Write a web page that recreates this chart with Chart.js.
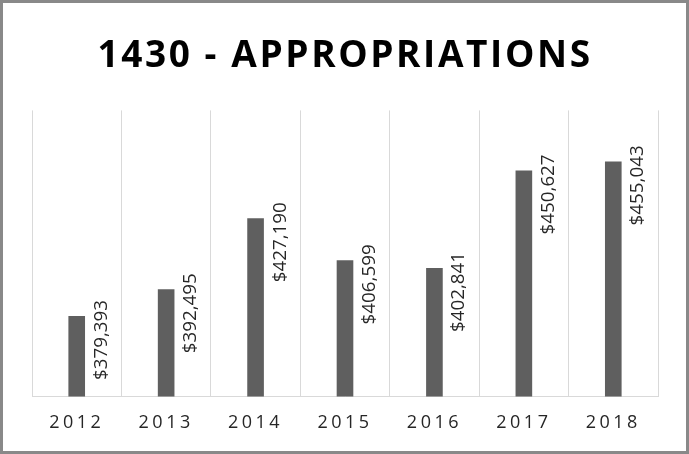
<!DOCTYPE html>
<html>
<head>
<meta charset="utf-8">
<title>1430 - Appropriations</title>
<script src="https://cdn.jsdelivr.net/npm/chart.js@4.4.1/dist/chart.umd.min.js"></script>
<style>
  html, body { margin: 0; padding: 0; background: #fff; }
  #frame { width: 689px; height: 454px; box-sizing: border-box; border: 3px solid #898989; }
  canvas { display: block; }
</style>
</head>
<body>
<div id="frame"><canvas id="appropriationsChart" width="683" height="448"></canvas></div>
<script>
// Chart data
const years = ["2012", "2013", "2014", "2015", "2016", "2017", "2018"];
const appropriations = [379393, 392495, 427190, 406599, 402841, 450627, 455043];
const axisMin = 340000;
const axisMax = 480000;

const TITLE_SPACING = "2.6px";
const TICK_SPACING = "3.5px";

const formatDollars = (value) => "$" + value.toLocaleString("en-US");

// Draws the rotated value labels next to each bar and handles letter spacing
const barLabelsPlugin = {
  id: "barLabels",
  beforeDraw: (chart) => {
    chart.ctx.letterSpacing = TITLE_SPACING;
  },
  afterDatasetsDraw: (chart) => {
    const ctx = chart.ctx;
    const meta = chart.getDatasetMeta(0);
    ctx.save();
    ctx.letterSpacing = "0px";
    ctx.font = "18.8px 'Open Sans'";
    ctx.fillStyle = "#262626";
    ctx.textAlign = "right";
    ctx.textBaseline = "alphabetic";
    meta.data.forEach((bar, i) => {
      ctx.save();
      ctx.translate(bar.x + 30, bar.y - 16);
      ctx.rotate(-Math.PI / 2);
      ctx.fillText(formatDollars(appropriations[i]), 0, 0);
      ctx.restore();
    });
    ctx.restore();
    // x tick labels are drawn after the datasets (ticks.z = 1)
    ctx.letterSpacing = TICK_SPACING;
  },
  afterDraw: (chart) => {
    chart.ctx.letterSpacing = "0px";
  },
};

const ctx = document.getElementById("appropriationsChart").getContext("2d");
new Chart(ctx, {
  type: "bar",
  data: {
    labels: years,
    datasets: [
      {
        label: "Appropriations",
        data: appropriations,
        backgroundColor: "#5f5f5f",
        borderWidth: 0,
        categoryPercentage: 1,
        barPercentage: 0.186,
      },
    ],
  },
  options: {
    responsive: false,
    animation: false,
    layout: {
      padding: { left: 29, right: 28, top: 0, bottom: 1 },
    },
    plugins: {
      legend: { display: false },
      tooltip: { enabled: false },
      title: {
        display: true,
        text: "1430 - APPROPRIATIONS",
        color: "#000",
        font: { family: "'Open Sans'", size: 37, weight: "bold" },
        padding: { top: 31, bottom: 32 },
      },
    },
    scales: {
      x: {
        offset: true,
        grid: { color: "#d9d9d9", lineWidth: 1, drawTicks: false, offset: true },
        border: { color: "#d9d9d9" },
        ticks: {
          z: 1,
          padding: 16,
          color: "#262626",
          font: { family: "'Open Sans'", size: 18 },
        },
      },
      y: {
        display: false,
        min: axisMin,
        max: axisMax,
      },
    },
  },
  plugins: [barLabelsPlugin],
});
</script>
</body>
</html>
